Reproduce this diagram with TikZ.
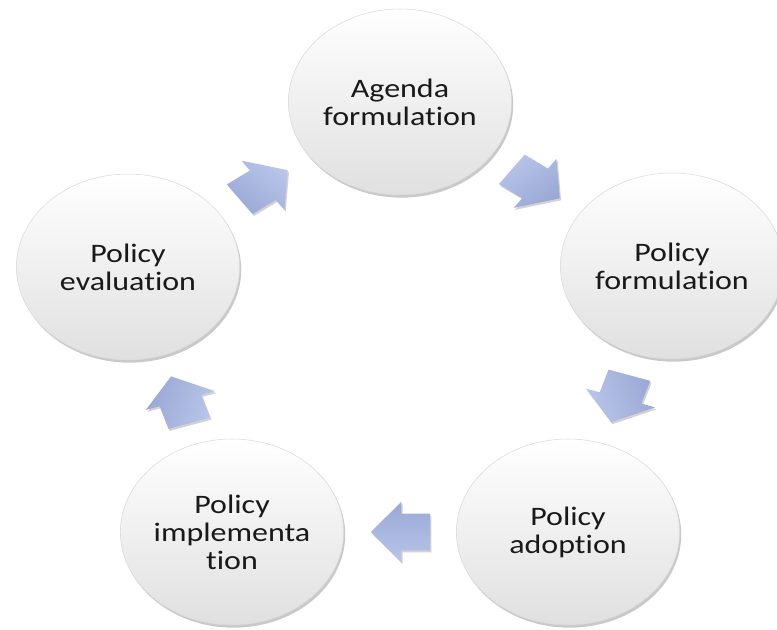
\documentclass[tikz,border=0pt]{standalone}
\usepackage{fontspec}
\setmainfont{Carlito}[Ligatures=NoCommon]
\usetikzlibrary{positioning,calc,shapes.arrows,shadows}
\definecolor{arrowtop}{HTML}{B9C5E9}
\definecolor{arrowbot}{HTML}{99A8D5}
\definecolor{stagebot}{HTML}{E0E0E0}

\begin{document}
\begin{tikzpicture}[x=0.625pt, y=0.75pt, xscale=1.2, transform shape,
    stage/.style={circle, minimum size=139.5pt, inner sep=0pt, align=center,
        top color=white, bottom color=stagebot, draw=black!15, line width=0.4pt,
        font=\fontsize{20}{21}\selectfont, text=black!90,
        drop shadow={shadow xshift=1.2pt, shadow yshift=-2pt, opacity=0.3, fill=black!70}},
    cyclearrow/.style={single arrow, minimum height=37pt, inner xsep=0pt, inner ysep=13.5pt,
        single arrow head extend=9pt, single arrow tip angle=100,
        top color=arrowtop, bottom color=arrowbot, draw=none,
        drop shadow={shadow xshift=1pt, shadow yshift=-1.5pt, opacity=0.25, fill=black!70}}]
    \useasboundingbox (0,0) rectangle (777,629);
    % STAGES OF THE CYCLE
    \node[stage] (agenda) at (400,527) {Agenda\\formulation};
    \node[stage] (form) at (672,363) {Policy\\formulation};
    \node[stage] (adopt) at (568,97) {Policy\\adoption};
    \node[stage] (impl) at (232,97) {Policy\\implementa\\tion};
    \node[stage] (eval) at (128,362) {Policy\\evaluation};
    % BLOCK ARROWS, CLOCKWISE
    \foreach \from/\to/\ang in {eval/agenda/36, agenda/form/-36, form/adopt/-108,
                                adopt/impl/180, impl/eval/108}
        \node[cyclearrow, rotate=\ang, xshift=-6pt, shading angle=-\ang] (arr-\from) at ($(\from)!0.5!(\to)$) {};
\end{tikzpicture}
\end{document}
